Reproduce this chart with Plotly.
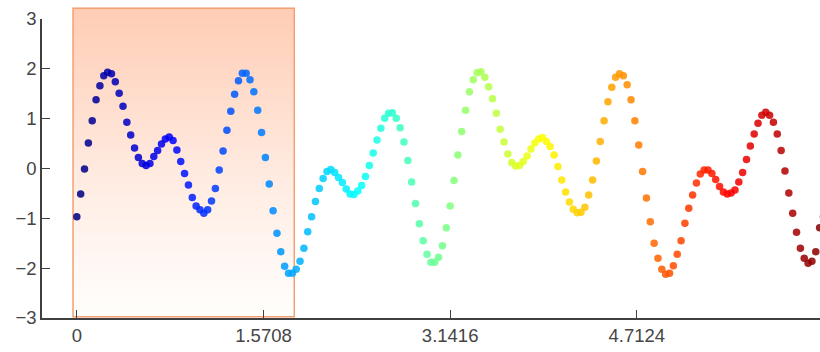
import numpy as np
import plotly.graph_objects as go

# Sampled signal: 195 evenly spaced samples over one full turn (0 .. 2*pi)
y_values = [
    -0.97, -0.51, -0.01, 0.51, 0.96, 1.38, 1.66, 1.86, 1.93, 1.90,
    1.74, 1.51, 1.25, 0.93, 0.67, 0.41, 0.22, 0.10, 0.06, 0.10,
    0.24, 0.36, 0.49, 0.59, 0.63, 0.56, 0.37, 0.14, -0.10, -0.33,
    -0.58, -0.75, -0.83, -0.90, -0.83, -0.65, -0.40, -0.03, 0.35, 0.77,
    1.15, 1.49, 1.76, 1.91, 1.91, 1.78, 1.54, 1.17, 0.72, 0.22,
    -0.31, -0.85, -1.30, -1.67, -1.96, -2.10, -2.10, -2.02, -1.86, -1.60,
    -1.27, -0.97, -0.66, -0.40, -0.20, -0.06, -0.02, -0.08, -0.18, -0.28,
    -0.41, -0.51, -0.52, -0.45, -0.34, -0.16, 0.06, 0.31, 0.57, 0.81,
    1.01, 1.11, 1.12, 1.01, 0.82, 0.53, 0.16, -0.27, -0.70, -1.11,
    -1.45, -1.72, -1.88, -1.88, -1.78, -1.55, -1.19, -0.75, -0.24, 0.27,
    0.74, 1.17, 1.54, 1.78, 1.92, 1.94, 1.83, 1.64, 1.40, 1.11,
    0.79, 0.53, 0.29, 0.12, 0.05, 0.06, 0.14, 0.25, 0.39, 0.51,
    0.59, 0.62, 0.54, 0.44, 0.27, 0.04, -0.23, -0.47, -0.67, -0.82,
    -0.89, -0.88, -0.78, -0.53, -0.23, 0.15, 0.54, 0.96, 1.34, 1.63,
    1.83, 1.90, 1.86, 1.68, 1.38, 0.96, 0.47, -0.06, -0.59, -1.07,
    -1.50, -1.80, -2.02, -2.12, -2.10, -1.95, -1.72, -1.45, -1.10, -0.80,
    -0.53, -0.29, -0.11, -0.03, -0.03, -0.10, -0.22, -0.36, -0.47, -0.51,
    -0.49, -0.43, -0.27, -0.08, 0.18, 0.45, 0.69, 0.91, 1.07, 1.13,
    1.07, 0.93, 0.69, 0.36, -0.05, -0.49, -0.90, -1.28, -1.60, -1.80,
    -1.90, -1.86, -1.67, -1.19, -0.97,
]
x_values = np.linspace(0, 2 * np.pi, len(y_values))

x_tick_vals = [0, np.pi / 2, np.pi, 3 * np.pi / 2]
x_tick_text = ["0", "1.5708", "3.1416", "4.7124"]
y_tick_vals = [-3, -2, -1, 0, 1, 2, 3]

# Highlighted interval (data units along x)
band_x = [-0.032, 1.83]

# MATLAB-style jet colormap
jet = [
    [0.0, "rgb(0,0,128)"],
    [0.125, "rgb(0,0,255)"],
    [0.375, "rgb(0,255,255)"],
    [0.625, "rgb(255,255,0)"],
    [0.875, "rgb(255,0,0)"],
    [1.0, "rgb(128,0,0)"],
]

fig = go.Figure()

fig.add_trace(go.Scatter(
    x=x_values,
    y=y_values,
    mode="markers",
    marker=dict(
        size=7.5,
        symbol="circle",
        color=x_values,
        colorscale=jet,
        cmin=0,
        cmax=2 * np.pi,
        opacity=0.86,
        line=dict(width=0),
    ),
    showlegend=False,
    hoverinfo="x+y",
))

# Vertical gradient fill of the highlighted interval: peach at top, white at bottom
top_rgb = np.array([255, 204, 180])
bottom_rgb = np.array([255, 253, 251])
paper_top = 1.036
n_bands = 60
shapes = []
for i in range(n_bands):
    y0 = paper_top * i / n_bands
    y1 = paper_top * (i + 1) / n_bands
    t = ((i + 0.5) / n_bands) ** 1.25
    c = bottom_rgb + (top_rgb - bottom_rgb) * t
    shapes.append(dict(
        type="rect", xref="x", yref="paper",
        x0=band_x[0], x1=band_x[1], y0=y0, y1=y1 + 0.002,
        fillcolor="rgb(%d,%d,%d)" % tuple(int(round(v)) for v in c),
        line=dict(width=0), layer="below",
    ))
shapes.append(dict(
    type="rect", xref="x", yref="paper",
    x0=band_x[0], x1=band_x[1], y0=0.004, y1=paper_top,
    fillcolor="rgba(0,0,0,0)",
    line=dict(color="#f5a072", width=1.5), layer="below",
))

axis_font = dict(family="Liberation Sans, Arial, sans-serif", size=18.5, color="#454545")

fig.update_layout(
    width=820,
    height=352,
    margin=dict(l=42, r=0, t=19, b=34),
    paper_bgcolor="white",
    plot_bgcolor="white",
    shapes=shapes,
    xaxis=dict(
        range=[-0.293, 6.254],
        tickmode="array",
        tickvals=x_tick_vals,
        ticktext=x_tick_text,
        ticks="inside",
        ticklen=8,
        tickwidth=1,
        tickcolor="#404040",
        showline=True,
        linecolor="#404040",
        linewidth=1.5,
        showgrid=False,
        zeroline=False,
        tickfont=axis_font,
    ),
    yaxis=dict(
        range=[-3, 3],
        tickmode="array",
        tickvals=y_tick_vals,
        ticks="inside",
        ticklen=8,
        tickwidth=1,
        tickcolor="#404040",
        showline=True,
        linecolor="#404040",
        linewidth=1.5,
        showgrid=False,
        zeroline=False,
        tickfont=axis_font,
    ),
)

fig.write_html("out.html")
